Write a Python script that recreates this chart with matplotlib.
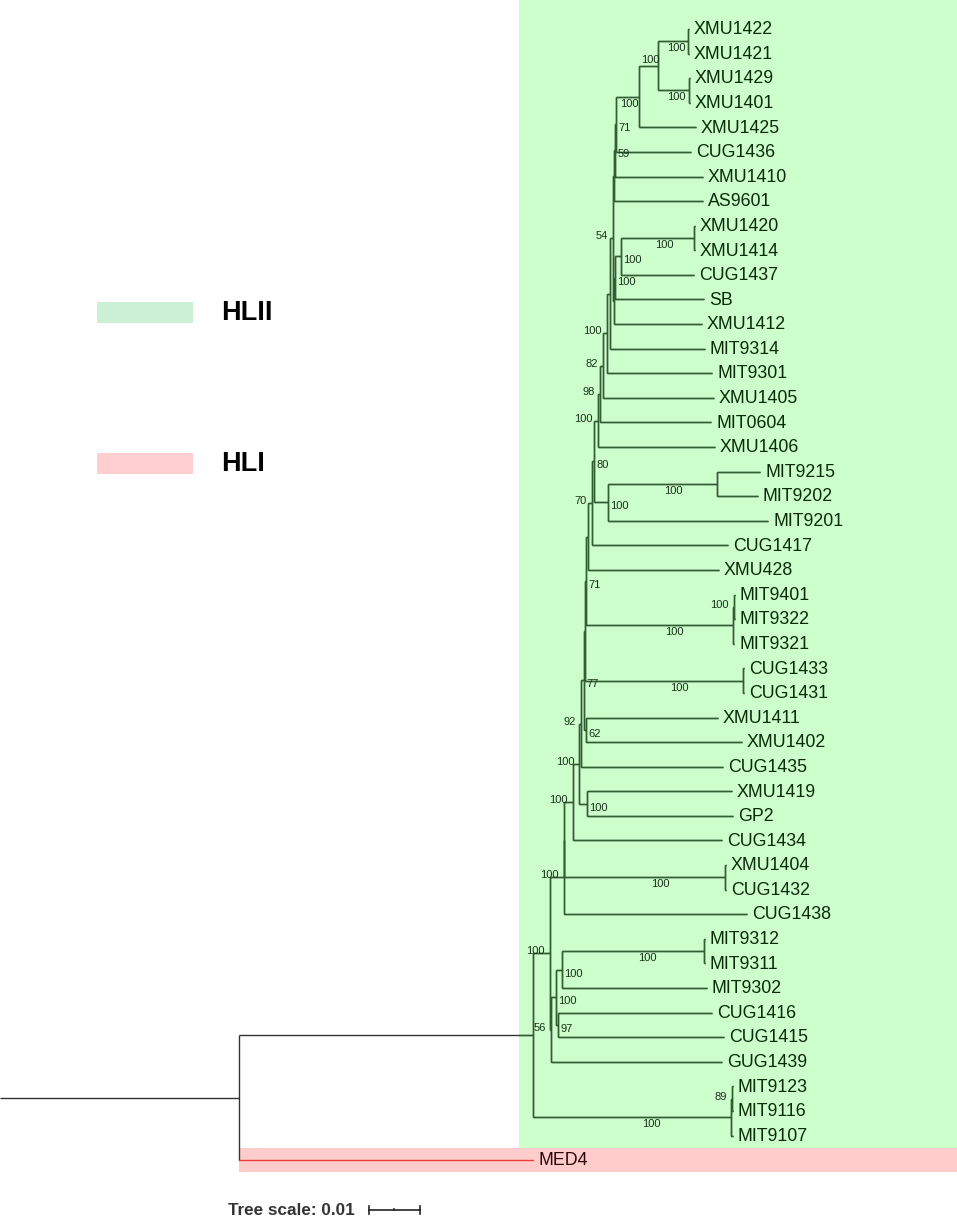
import matplotlib.pyplot as plt
from matplotlib.patches import Rectangle
from matplotlib.collections import LineCollection

plt.rcParams['font.family'] = ['Liberation Sans', 'DejaVu Sans']

# --- 1. leaves (top to bottom) and their distance from the root ---
leaf_names = ['XMU1422', 'XMU1421', 'XMU1429', 'XMU1401', 'XMU1425', 'CUG1436',
              'XMU1410', 'AS9601', 'XMU1420', 'XMU1414', 'CUG1437', 'SB',
              'XMU1412', 'MIT9314', 'MIT9301', 'XMU1405', 'MIT0604', 'XMU1406',
              'MIT9215', 'MIT9202', 'MIT9201', 'CUG1417', 'XMU428', 'MIT9401',
              'MIT9322', 'MIT9321', 'CUG1433', 'CUG1431', 'XMU1411', 'XMU1402',
              'CUG1435', 'XMU1419', 'GP2', 'CUG1434', 'XMU1404', 'CUG1432',
              'CUG1438', 'MIT9312', 'MIT9311', 'MIT9302', 'CUG1416', 'CUG1415',
              'GUG1439', 'MIT9123', 'MIT9116', 'MIT9107', 'MED4']
leaf_depth = [0.08824, 0.08824, 0.08843, 0.08843, 0.08961, 0.08863,
              0.09098, 0.09098, 0.08941, 0.08941, 0.08922, 0.09118,
              0.09078, 0.09137, 0.09275, 0.09314, 0.09255, 0.09333,
              0.10216, 0.10176, 0.10373, 0.09588, 0.09412, 0.09725,
              0.09725, 0.09706, 0.09902, 0.09902, 0.09392, 0.09863,
              0.09490, 0.09667, 0.09686, 0.09471, 0.09549, 0.09549,
              0.09961, 0.09137, 0.09137, 0.09176, 0.09275, 0.09510,
              0.09471, 0.09686, 0.09686, 0.09686, 0.05765]

# --- 2. internal nodes (children before parents) ---
node_names = ['A', 'B', 'C', 'D', 'E', 'F', 'G', 'H', 'I', 'J', 'L', 'K', 'M',
              'N1', 'N2', 'N3', 'N4', 'P', 'Q', 'N5', 'N6', 'R', 'U', 'T', 'S',
              'Z', 'AA', 'X', 'W', 'BB', 'Y', 'CC', 'DD', 'ZZ', 'FF1', 'FF2',
              'PP', 'JJ', 'KK', 'LL', 'MM', 'HH', 'VV1', 'VV', 'crown', 'root']
node_children = [('XMU1422', 'XMU1421'), ('XMU1429', 'XMU1401'), ('A', 'B'),
                 ('C', 'XMU1425'), ('D', 'CUG1436'), ('E', 'XMU1410'),
                 ('F', 'AS9601'), ('XMU1420', 'XMU1414'), ('H', 'CUG1437'),
                 ('I', 'SB'), ('J', 'XMU1412'), ('G', 'L'), ('K', 'MIT9314'),
                 ('M', 'MIT9301'), ('N1', 'XMU1405'), ('N2', 'MIT0604'),
                 ('N3', 'XMU1406'), ('MIT9215', 'MIT9202'), ('P', 'MIT9201'),
                 ('N4', 'Q'), ('N5', 'CUG1417'), ('N6', 'XMU428'),
                 ('MIT9401', 'MIT9322'), ('U', 'MIT9321'), ('R', 'T'),
                 ('CUG1433', 'CUG1431'), ('S', 'Z'), ('XMU1411', 'XMU1402'),
                 ('AA', 'X'), ('W', 'CUG1435'), ('XMU1419', 'GP2'), ('BB', 'Y'),
                 ('CC', 'CUG1434'), ('XMU1404', 'CUG1432'), ('DD', 'ZZ'),
                 ('FF1', 'CUG1438'), ('MIT9312', 'MIT9311'), ('PP', 'MIT9302'),
                 ('CUG1416', 'CUG1415'), ('JJ', 'KK'), ('LL', 'GUG1439'),
                 ('FF2', 'MM'), ('MIT9123', 'MIT9116'), ('VV1', 'MIT9107'),
                 ('HH', 'VV'), ('crown', 'MED4')]
node_depth = [0.08804, 0.08824, 0.08216, 0.07843, 0.07392, 0.07373, 0.07353,
              0.08912, 0.07490, 0.07363, 0.07353, 0.07324, 0.07275,
              0.07216, 0.07137, 0.07078, 0.07039, 0.09373, 0.07235, 0.06951,
              0.06912, 0.06843, 0.09706, 0.09686, 0.06804,
              0.09882, 0.06784, 0.06804, 0.06755, 0.06706, 0.06824, 0.06676,
              0.06549, 0.09529, 0.06373, 0.06363,
              0.09118, 0.06333, 0.06255, 0.06216, 0.06118, 0.06098,
              0.09667, 0.09647, 0.05765, 0.0]
node_support = [100, 100, 100, 100, 71, 59, None, 100, 100, 100, None, 54, None,
                100, 82, 98, 100, 100, 100, 80, 70, None, 100, 100, 71,
                100, None, 62, 77, 92, 100, 100, 100, 100, None, 100,
                100, 100, 97, 100, 56, 100, 89, 100, None, None]

# where each bootstrap value is written
support_pos = ['mid', 'mid', 'above', 'mid', 'right', 'right', '', 'mid', 'right',
               'right', '', 'left', '', 'left', 'left', 'left', 'left', 'mid',
               'right', 'right', 'left', '', 'left', 'mid', 'right', 'mid', '',
               'right', 'right', 'left', 'right', 'left', 'left', 'mid', '',
               'left', 'mid', 'right', 'right', 'right', 'left', 'left', 'left',
               'mid', '', '']

group_names = ['HLII', 'HLI']
group_colors = ['#ccffcc', '#ffcccc']
legend_colors = ['#ccf0d5', '#ffcfcf']
scale_len = 0.01

# --- 3. layout ---
W, H = 957, 1217
PX = scale_len / 51          # tree units per pixel
ROW = 24.59                  # pixels per leaf row
x0 = -239 * PX

fig = plt.figure(figsize=(W / 100, H / 100), dpi=100)
ax = fig.add_axes([0, 0, 1, 1])
ax.set_xlim(x0, x0 + W * PX)
ax.set_ylim((H - 29) / ROW, -29 / ROW)
ax.axis('off')

xpos = dict(zip(leaf_names, leaf_depth))
ypos = {n: i for i, n in enumerate(leaf_names)}
parent = {}
for name, kids, d in zip(node_names, node_children, node_depth):
    xpos[name] = d
    ypos[name] = (ypos[kids[0]] + ypos[kids[-1]]) / 2
    for k in kids:
        parent[k] = name

segs = [[(x0, ypos['root']), (0.0, ypos['root'])]]
for name, kids in zip(node_names, node_children):
    d = xpos[name]
    segs.append([(d, ypos[kids[0]]), (d, ypos[kids[-1]])])
    for k in kids:
        if k == 'MED4':
            continue
        segs.append([(d, ypos[k]), (xpos[k], ypos[k])])

# clade ranges
hl1_row = ypos['MED4']
green = Rectangle((xpos['crown'] - 14 * PX, -29 / ROW - 1), 1, hl1_row - 0.5 + 29 / ROW + 1,
                  facecolor=group_colors[0], edgecolor='none', zorder=0)
pink = Rectangle((0.0, hl1_row - 0.5), 1, 1.0,
                 facecolor=group_colors[1], edgecolor='none', zorder=0)
ax.add_patch(green)
ax.add_patch(pink)

ax.add_collection(LineCollection(segs, colors='#333333', linewidths=1.0, zorder=2))
lc_green = LineCollection(segs, colors='#2f5f2f', linewidths=1.0, zorder=3)
ax.add_collection(lc_green)
lc_green.set_clip_path(green)
ax.plot([0.0, xpos['MED4']], [hl1_row, hl1_row], color='#f03c3c', lw=1.0, zorder=3)

# leaf labels
for n in leaf_names:
    col = '#2a0808' if n == 'MED4' else '#0a2a0a'
    ax.text(xpos[n] + 5 * PX, ypos[n] + 0.03, n, fontsize=12.8, color=col,
            ha='left', va='center', zorder=4)

# bootstrap values
for name, s, pos in zip(node_names, node_support, support_pos):
    if s is None:
        continue
    d, y = xpos[name], ypos[name]
    if pos in ('mid', 'above'):
        pd = xpos[parent[name]]
        tx, ty, ha = pd + 0.6 * (d - pd), y + (7 if pos == 'mid' else -6) / ROW, 'center'
    elif pos == 'left':
        tx, ty, ha = d - 5 * PX, y - 2 / ROW, 'right'
    else:
        tx, ty, ha = d + 2.5 * PX, y + 4 / ROW, 'left'
    ax.text(tx, ty, str(s), fontsize=8, color='#1a301a', ha=ha, va='center', zorder=4)

# legend
for i, (g, c) in enumerate(zip(group_names, legend_colors)):
    yc = 313 + 151 * i
    fig.patches.append(Rectangle((97 / W, 1 - (yc + 10) / H), 96 / W, 21 / H,
                                 transform=fig.transFigure, facecolor=c,
                                 edgecolor='none'))
    fig.text(221 / W, 1 - yc / H, g, fontsize=19.5, fontweight='bold',
             color='black', ha='left', va='center')

# tree scale
sy = (1210 - 29) / ROW
sx = x0 + 369 * PX
ax.plot([sx, sx + scale_len], [sy, sy], color='#222222', lw=1.2)
for xx, h in [(sx, 4), (sx + scale_len, 4), (sx + scale_len / 2, 1.5)]:
    ax.plot([xx, xx], [sy - h / ROW, sy + (h if h > 2 else 0) / ROW], color='#222222', lw=1.2)
ax.text(x0 + 355 * PX, sy, 'Tree scale: 0.01', fontsize=12.3, fontweight='bold',
        color='#333333', ha='right', va='center')

fig.savefig('out.png', dpi=100)
